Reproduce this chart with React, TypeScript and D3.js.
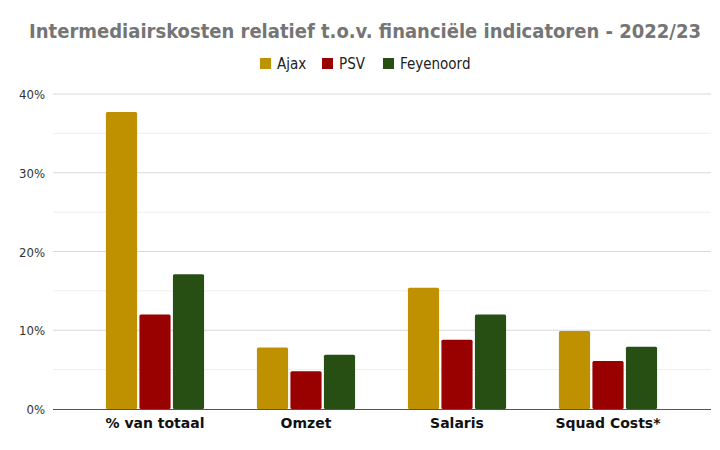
import * as d3 from "d3";
import { useEffect, useRef } from "react";

const categories = ["% van totaal", "Omzet", "Salaris", "Squad Costs*"];
const clubs = ["Ajax", "PSV", "Feyenoord"];
const colors = ["#bf9000", "#990000", "#274e13"];

// percentages per category, in order of `categories`
const ajax = [37.7, 7.8, 15.4, 9.9];
const psv = [12.0, 4.8, 8.8, 6.1];
const feyenoord = [17.1, 6.9, 12.0, 7.9];

const yTicks = [0, 10, 20, 30, 40];
const yMinor = [5, 15, 25, 35];

const title = "Intermediairskosten relatief t.o.v. financiële indicatoren - 2022/23";

export default function App() {
  const ref = useRef<SVGSVGElement | null>(null);

  useEffect(() => {
    document.body.style.margin = "0";
    const el = ref.current;
    if (!el) return;
    const svg = d3.select(el);
    svg.selectAll("*").remove();

    const W = 720;
    const H = 450;
    const plot = { left: 53, right: 711, top: 94, bottom: 409 };
    const series = [ajax, psv, feyenoord];

    const y = d3.scaleLinear().domain([0, 40]).range([plot.bottom, plot.top]);
    const x0 = d3.scaleBand().domain(categories).range([79.5, 683.5]).paddingInner(0.35).paddingOuter(0.175);
    const x1 = d3.scaleBand().domain(clubs).range([0, x0.bandwidth()]).paddingInner(0.07);

    svg.attr("viewBox", `0 0 ${W} ${H}`).attr("width", W).attr("height", H);
    svg.append("rect").attr("width", W).attr("height", H).attr("fill", "#fff");

    svg
      .append("text")
      .attr("x", W / 2 + 5)
      .attr("y", 38)
      .attr("text-anchor", "middle")
      .attr("fill", "#757575")
      .attr("font-family", "DejaVu Sans Condensed, DejaVu Sans")
      .attr("font-weight", "bold")
      .attr("font-size", 20)
      .text(title);

    // legend
    const legendX = [260, 322, 383];
    const lg = svg.append("g");
    clubs.forEach((c, i) => {
      lg.append("rect")
        .attr("x", legendX[i])
        .attr("y", 58)
        .attr("width", 11)
        .attr("height", 11)
        .attr("fill", colors[i]);
      lg.append("text")
        .attr("x", legendX[i] + 17)
        .attr("y", 69)
        .attr("fill", "#222")
        .attr("font-family", "DejaVu Sans Condensed, DejaVu Sans")
        .attr("font-size", 15)
        .text(c);
    });

    // grid
    svg
      .append("g")
      .selectAll("line")
      .data(yMinor)
      .join("line")
      .attr("x1", plot.left)
      .attr("x2", plot.right)
      .attr("y1", (d) => y(d))
      .attr("y2", (d) => y(d))
      .attr("stroke", "#eeeeee")
      .attr("stroke-width", 1);
    svg
      .append("g")
      .selectAll("line")
      .data(yTicks.filter((d) => d > 0))
      .join("line")
      .attr("x1", plot.left)
      .attr("x2", plot.right)
      .attr("y1", (d) => y(d))
      .attr("y2", (d) => y(d))
      .attr("stroke", "#d9d9d9")
      .attr("stroke-width", 1);

    svg
      .append("g")
      .selectAll("text")
      .data(yTicks)
      .join("text")
      .attr("x", 45)
      .attr("y", (d) => y(d) + 5)
      .attr("text-anchor", "end")
      .attr("fill", "#333")
      .attr("font-family", "DejaVu Sans Condensed, DejaVu Sans")
      .attr("font-size", 13)
      .text((d) => `${d}%`);

    // bars
    const groups = svg
      .append("g")
      .selectAll("g")
      .data(categories)
      .join("g")
      .attr("transform", (d) => `translate(${x0(d)},0)`);
    groups
      .selectAll("rect")
      .data((_, ci) => clubs.map((c, si) => ({ c, v: series[si][ci], si })))
      .join("rect")
      .attr("x", (d) => x1(d.c) ?? 0)
      .attr("y", (d) => y(d.v))
      .attr("width", x1.bandwidth())
      .attr("height", (d) => y(0) - y(d.v))
      .attr("rx", 1.5)
      .attr("fill", (d) => colors[d.si]);

    svg
      .append("line")
      .attr("x1", plot.left)
      .attr("x2", plot.right)
      .attr("y1", plot.bottom + 0.5)
      .attr("y2", plot.bottom + 0.5)
      .attr("stroke", "#555")
      .attr("stroke-width", 1.2);

    svg
      .append("g")
      .selectAll("text")
      .data(categories)
      .join("text")
      .attr("x", (d) => (x0(d) ?? 0) + x0.bandwidth() / 2)
      .attr("y", 428)
      .attr("text-anchor", "middle")
      .attr("fill", "#111")
      .attr("font-family", "DejaVu Sans, Verdana")
      .attr("font-weight", "bold")
      .attr("font-size", 14)
      .text((d) => d);
  }, []);

  return <svg ref={ref} style={{ display: "block" }} />;
}
